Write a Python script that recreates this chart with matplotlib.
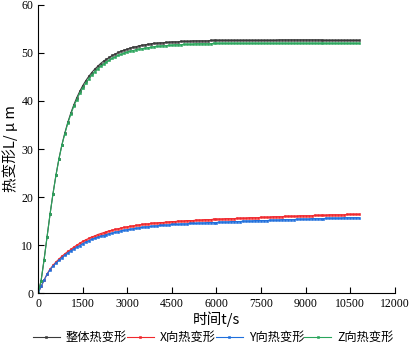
import numpy as np
import matplotlib.pyplot as plt

# time axis, one sample every 100 s
t = np.arange(0, 10900, 100)

total = [0.0, 2.6, 7.0, 11.7, 16.4, 20.7, 24.6, 28.0, 30.9, 33.4,
         35.6, 37.5, 39.2, 40.7, 42.0, 43.2, 44.2, 45.1, 45.9, 46.6,
         47.2, 47.8, 48.3, 48.7, 49.1, 49.5, 49.8, 50.1, 50.4, 50.6,
         50.8, 51.0, 51.2, 51.3, 51.5, 51.6, 51.7, 51.8, 51.9, 52.0,
         52.0, 52.1, 52.1, 52.2, 52.2, 52.3, 52.3, 52.3, 52.4, 52.4,
         52.4, 52.4, 52.5, 52.5, 52.5, 52.5, 52.5, 52.5, 52.6, 52.6,
         52.6] + [52.6] * 20 + [52.7] * 15 + [52.6] * 13

z_def = [0.0, 2.6, 6.9, 11.7, 16.4, 20.7, 24.5, 27.9, 30.8, 33.2,
         35.4, 37.2, 38.9, 40.3, 41.6, 42.7, 43.7, 44.6, 45.4, 46.1,
         46.7, 47.2, 47.7, 48.1, 48.5, 48.9, 49.2, 49.5, 49.7, 50.0,
         50.2, 50.4, 50.5, 50.7, 50.8, 50.9, 51.0, 51.1, 51.2, 51.3,
         51.4, 51.4, 51.5, 51.5, 51.6, 51.6, 51.7, 51.7, 51.7, 51.8,
         51.8, 51.8, 51.8, 51.9, 51.9, 51.9, 51.9, 51.9, 51.9, 52.0,
         52.0] + [52.0] * 48

x_def = [0.0, 1.4, 2.7, 4.0, 5.0, 5.8, 6.5, 7.1, 7.7, 8.2,
         8.7, 9.1, 9.6, 10.0, 10.4, 10.8, 11.1, 11.4, 11.7, 11.9,
         12.2, 12.4, 12.6, 12.8, 13.0, 13.1, 13.3, 13.4, 13.6, 13.7,
         13.8, 13.9, 14.0, 14.1, 14.2, 14.3, 14.4, 14.4, 14.5, 14.6,
         14.6, 14.7, 14.7, 14.8, 14.8, 14.9, 14.9, 15.0, 15.0, 15.0,
         15.1, 15.1, 15.1, 15.2, 15.2, 15.2, 15.3, 15.3, 15.3, 15.4,
         15.4,
         15.4, 15.4, 15.5, 15.5, 15.5, 15.5, 15.6, 15.6, 15.6, 15.6,
         15.7, 15.7, 15.7, 15.7, 15.8, 15.8, 15.8, 15.8, 15.9, 15.9,
         15.9, 15.9, 16.0, 16.0, 16.0, 16.0, 16.0, 16.1, 16.1, 16.1,
         16.1, 16.1, 16.2, 16.2, 16.2, 16.2, 16.2, 16.3, 16.3, 16.3,
         16.3, 16.3, 16.3, 16.4, 16.4, 16.4, 16.4, 16.4]

y_def = [0.0, 1.4, 2.7, 3.9, 4.9, 5.6, 6.3, 6.8, 7.4, 7.9,
         8.4, 8.8, 9.2, 9.6, 9.9, 10.3, 10.6, 10.9, 11.2, 11.4,
         11.6, 11.8, 12.0, 12.2, 12.4, 12.5, 12.7, 12.8, 13.0, 13.1,
         13.2, 13.3, 13.4, 13.5, 13.6, 13.7, 13.8, 13.8, 13.9, 14.0,
         14.0, 14.1, 14.1, 14.2, 14.2, 14.3, 14.3, 14.3, 14.4, 14.4,
         14.4, 14.5, 14.5, 14.5, 14.6, 14.6, 14.6, 14.7, 14.7, 14.7,
         14.7] + [14.8] * 4 + [14.9] * 4 + [15.0] * 4 + [15.1] * 5 \
    + [15.2] * 4 + [15.3] * 5 + [15.4] * 5 + [15.5] * 5 + [15.6] * 6 \
    + [15.7] * 6

labels = ['整体热变形', 'X向热变形', 'Y向热变形', 'Z向热变形']
colors = ['#3a3a3a', '#f0282d', '#1f6fdc', '#2aa55c']

cjk = ['Noto Sans CJK SC', 'DejaVu Sans']
num_font = 'Liberation Serif'

fig = plt.figure(figsize=(4.10, 3.49), dpi=100)
ax = fig.add_axes([0.093, 0.160, 0.870, 0.826])

for vals, lab, c in zip([total, x_def, y_def, z_def], labels, colors):
    ax.plot(t, vals, color=c, lw=0.8, marker='s', markersize=1.9,
            markeredgewidth=0.4, label=lab)

ax.set_xlim(0, 12000)
ax.set_ylim(0, 60)
ax.set_xticks(np.arange(0, 12001, 1500))
ax.set_yticks(np.arange(0, 61, 10))
ax.spines['top'].set_visible(False)
ax.spines['right'].set_visible(False)
ax.tick_params(direction='in', length=4, width=0.8, labelsize=8.5)
for lbl in ax.get_xticklabels() + ax.get_yticklabels():
    lbl.set_family(num_font)

ax.set_xlabel('时间t/s', family=cjk, fontsize=10.5, labelpad=1)
ax.set_ylabel('热变形L/ μ m', family=cjk, fontsize=10.5, labelpad=2)

fig.legend(loc='lower center', bbox_to_anchor=(0.52, -0.01), ncol=4,
           frameon=False, prop={'family': cjk, 'size': 8.8},
           handlelength=2.2, handletextpad=0.5, columnspacing=0.0,
           borderpad=0.2)

fig.savefig('out.png', dpi=100)
